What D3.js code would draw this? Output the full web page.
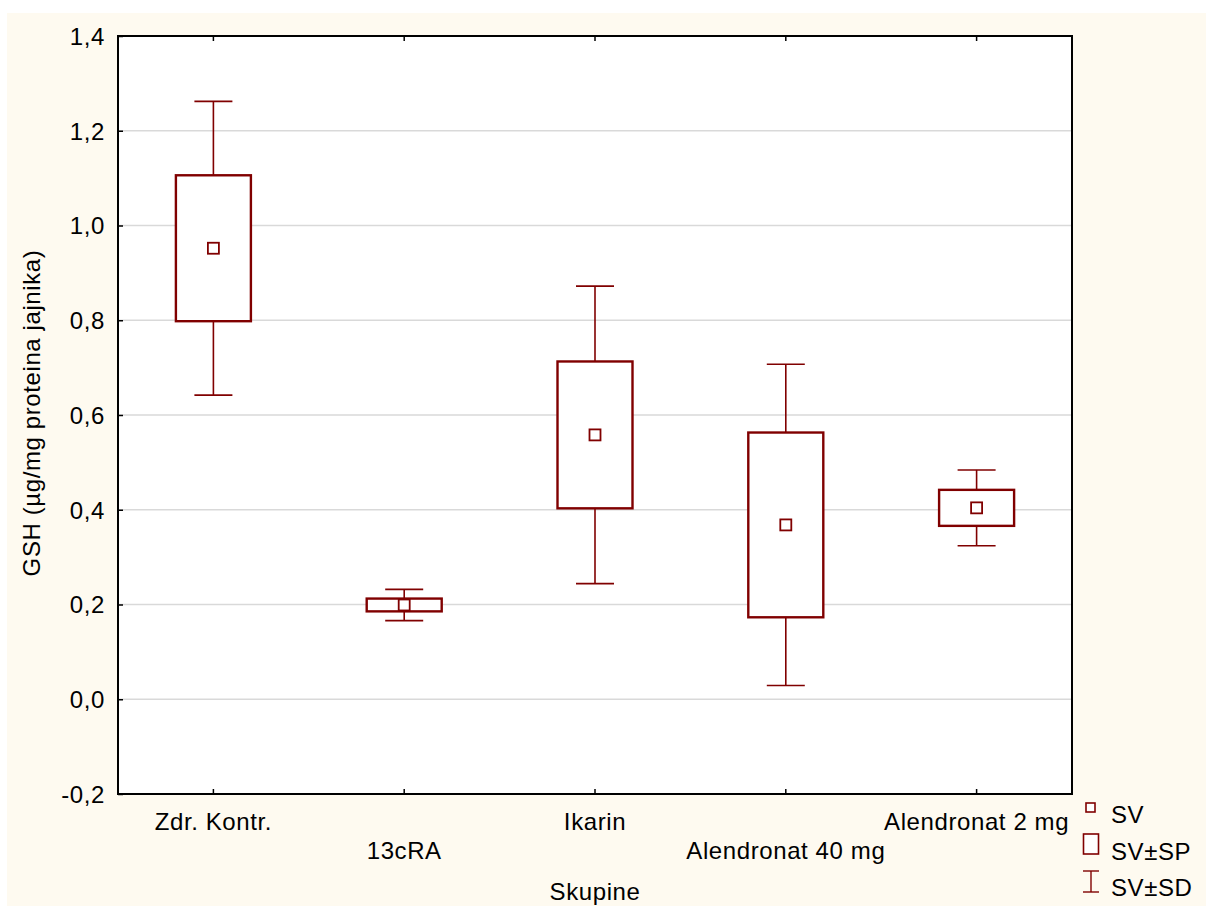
<!DOCTYPE html>
<html>
<head>
<meta charset="utf-8">
<script src="https://cdn.jsdelivr.net/npm/d3@7"></script>
<style>
  body { margin: 0; background: #ffffff; }
  svg text { font-family: Arial, "Liberation Sans", sans-serif; fill: #000; letter-spacing: 0.6px; }
</style>
</head>
<body>
<svg id="chart"></svg>
<script>
// Chart size
const width = 1206;
const height = 906;

// Data
const groups = ["Zdr. Kontr.", "13cRA", "Ikarin", "Alendronat 40 mg", "Alendronat 2 mg"];
const means = [0.952, 0.199, 0.558, 0.368, 0.404];
const se = [0.154, 0.0135, 0.155, 0.195, 0.038];
const sd = [0.310, 0.033, 0.314, 0.339, 0.080];
const yTicks = [-0.2, 0.0, 0.2, 0.4, 0.6, 0.8, 1.0, 1.2, 1.4];
const legendLabels = ["SV", "SV±SP", "SV±SD"];

const plot = { left: 118, right: 1072, top: 36, bottom: 794 };
const color = "#800000";

const svg = d3.select("#chart")
  .attr("width", width)
  .attr("height", height);

// cream background
svg.append("rect")
  .attr("x", 7).attr("y", 13)
  .attr("width", width - 7).attr("height", height - 13)
  .attr("fill", "#fefaf0");

svg.append("rect")
  .attr("x", plot.left).attr("y", plot.top)
  .attr("width", plot.right - plot.left).attr("height", plot.bottom - plot.top)
  .attr("fill", "#ffffff");

// Scales
const x = d3.scaleBand()
  .domain(groups)
  .range([plot.left, plot.right]);

const y = d3.scaleLinear()
  .domain([-0.2, 1.4])
  .range([plot.bottom, plot.top]);

// decimal comma, plain hyphen for minus
const fmt = d => d3.format(".1f")(d).replace(".", ",").replace("\u2212", "-");

// Gridlines
svg.append("g")
  .selectAll("line")
  .data(yTicks.slice(1, -1))
  .enter()
  .append("line")
  .attr("x1", plot.left).attr("x2", plot.right)
  .attr("y1", d => y(d)).attr("y2", d => y(d))
  .attr("stroke", "#d9d9d9")
  .attr("stroke-width", 1.3);

// Y axis
const yAxis = svg.append("g")
  .attr("transform", `translate(${plot.left},0)`)
  .call(d3.axisLeft(y).tickValues(yTicks).tickSize(-5).tickFormat(fmt));
yAxis.select(".domain").remove();
yAxis.selectAll(".tick line").attr("stroke", "#000").attr("stroke-width", 1.5);
yAxis.selectAll(".tick text")
  .attr("x", -13)
  .attr("dy", "0.35em")
  .style("font-size", "24px");

// X axis (bottom) with staggered labels
const xAxis = svg.append("g")
  .attr("transform", `translate(0,${plot.bottom})`)
  .call(d3.axisBottom(x).tickSize(-5));
xAxis.select(".domain").remove();
xAxis.selectAll(".tick line").attr("stroke", "#000").attr("stroke-width", 1.5);
xAxis.selectAll(".tick text")
  .attr("y", (d, i) => i % 2 ? 65 : 36)
  .attr("dy", null)
  .style("font-size", "24px");

// top ticks
const xTop = svg.append("g")
  .attr("transform", `translate(0,${plot.top})`)
  .call(d3.axisTop(x).tickSize(-5).tickFormat(""));
xTop.select(".domain").remove();
xTop.selectAll(".tick line").attr("stroke", "#000").attr("stroke-width", 1.5);

// Frame
svg.append("rect")
  .attr("x", plot.left).attr("y", plot.top)
  .attr("width", plot.right - plot.left).attr("height", plot.bottom - plot.top)
  .attr("fill", "none")
  .attr("stroke", "#000")
  .attr("stroke-width", 2);

// Box plots
const boxW = 75;
const capW = 38;
const meanS = 11;
const items = groups.map((g, i) => ({ g: g, m: means[i], se: se[i], sd: sd[i] }));

const box = svg.append("g")
  .selectAll("g")
  .data(items)
  .enter()
  .append("g")
  .attr("transform", d => `translate(${x(d.g) + x.bandwidth() / 2},0)`);

box.append("line")
  .attr("y1", d => y(d.m - d.sd)).attr("y2", d => y(d.m + d.sd))
  .attr("stroke", color).attr("stroke-width", 1.6);

box.append("line")
  .attr("x1", -capW / 2).attr("x2", capW / 2)
  .attr("y1", d => y(d.m + d.sd)).attr("y2", d => y(d.m + d.sd))
  .attr("stroke", color).attr("stroke-width", 1.6);

box.append("line")
  .attr("x1", -capW / 2).attr("x2", capW / 2)
  .attr("y1", d => y(d.m - d.sd)).attr("y2", d => y(d.m - d.sd))
  .attr("stroke", color).attr("stroke-width", 1.6);

box.append("rect")
  .attr("x", -boxW / 2)
  .attr("y", d => y(d.m + d.se))
  .attr("width", boxW)
  .attr("height", d => y(d.m - d.se) - y(d.m + d.se))
  .attr("fill", "#ffffff")
  .attr("stroke", color).attr("stroke-width", 2.4);

box.append("rect")
  .attr("x", -meanS / 2)
  .attr("y", d => y(d.m) - meanS / 2)
  .attr("width", meanS).attr("height", meanS)
  .attr("fill", "#ffffff")
  .attr("stroke", color).attr("stroke-width", 1.8);

// Axis titles
svg.append("text")
  .attr("x", (plot.left + plot.right) / 2)
  .attr("y", 900)
  .attr("text-anchor", "middle")
  .style("font-size", "24px")
  .text("Skupine");

svg.append("text")
  .attr("transform", `translate(40,${(plot.top + plot.bottom) / 2 - 2}) rotate(-90)`)
  .attr("text-anchor", "middle")
  .style("font-size", "24px")
  .text("GSH (µg/mg proteina jajnika)");

// Legend
const legend = svg.append("g");
legend.append("rect")
  .attr("x", 1086).attr("y", 803).attr("width", 9).attr("height", 9)
  .attr("fill", "#fff").attr("stroke", color).attr("stroke-width", 1.6);
legend.append("rect")
  .attr("x", 1083.5).attr("y", 834).attr("width", 15).attr("height", 20)
  .attr("fill", "#fff").attr("stroke", color).attr("stroke-width", 1.6);
legend.append("line")
  .attr("x1", 1091).attr("x2", 1091).attr("y1", 871).attr("y2", 892)
  .attr("stroke", color).attr("stroke-width", 1.4);
legend.append("line")
  .attr("x1", 1083).attr("x2", 1099).attr("y1", 871).attr("y2", 871)
  .attr("stroke", color).attr("stroke-width", 1.4);
legend.append("line")
  .attr("x1", 1083).attr("x2", 1099).attr("y1", 892).attr("y2", 892)
  .attr("stroke", color).attr("stroke-width", 1.4);

legend.selectAll("text")
  .data(legendLabels)
  .enter()
  .append("text")
  .attr("x", 1111)
  .attr("y", (d, i) => 823 + i * 36.5)
  .style("font-size", "24px")
  .text(d => d);
</script>
</body>
</html>
